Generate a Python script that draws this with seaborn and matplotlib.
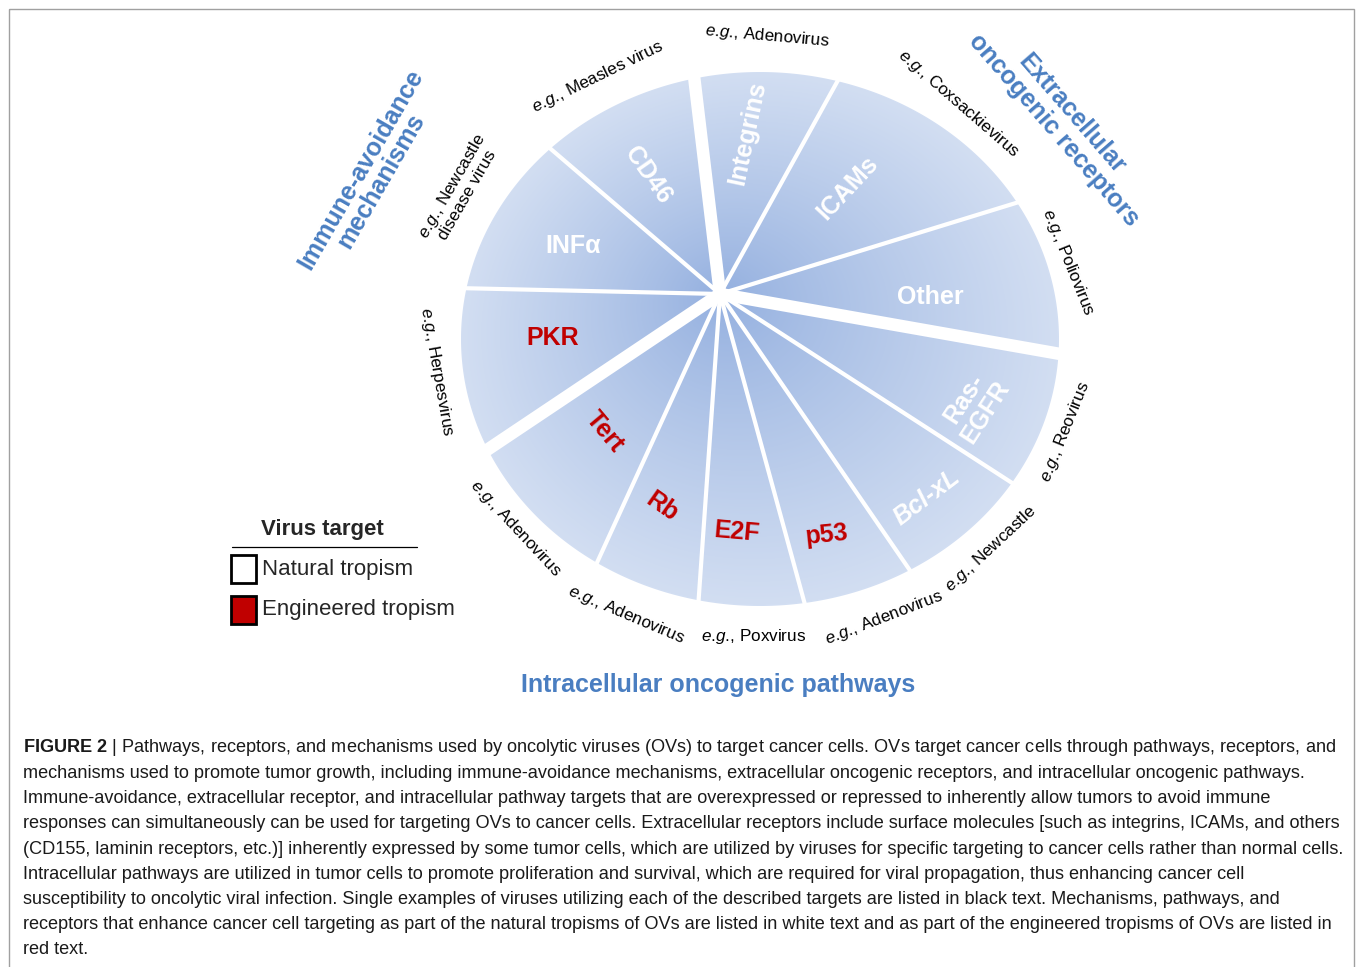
import numpy as np
import matplotlib
matplotlib.use("Agg")
import matplotlib.pyplot as plt
import seaborn as sns
from matplotlib.patches import Polygon, Rectangle

sns.set_theme(style="white")
plt.rcParams['font.family'] = ['Liberation Sans', 'DejaVu Sans']
plt.rcParams['mathtext.fontset'] = 'custom'
plt.rcParams['mathtext.rm'] = 'Liberation Sans'
plt.rcParams['mathtext.it'] = 'Liberation Sans:italic'
plt.rcParams['mathtext.bf'] = 'Liberation Sans:bold'

# ---------------- data ----------------
targets = ["Other", "ICAMs", "Integrins", "CD46", "INFα", "PKR",
           "Tert", "Rb", "E2F", "p53", "Bcl-xL", "Ras-\nEGFR"]
spans_deg = [27.1, 44.0, 35.7, 42.6, 39.3, 35.1, 31.6, 20.6, 19.3, 19.2, 22.6, 22.9]
groups = ["Extracellular", "Extracellular", "Extracellular",
          "Immune", "Immune", "Immune",
          "Intracellular", "Intracellular", "Intracellular",
          "Intracellular", "Intracellular", "Intracellular"]
tropism = ["Natural", "Natural", "Natural", "Natural", "Natural", "Engineered",
           "Engineered", "Engineered", "Engineered", "Engineered", "Natural", "Natural"]
examples = ["Poliovirus", "Coxsackievirus", "Adenovirus", "Measles virus",
            "Newcastle\ndisease virus", "Herpesvirus", "Adenovirus", "Adenovirus",
            "Poxvirus", "Adenovirus", "Newcastle", "Reovirus"]
group_titles = ["Extracellular\noncogenic receptors", "Immune-avoidance\nmechanisms",
                "Intracellular oncogenic pathways"]
legend_title = "Virus target"
legend_labels = ["Natural tropism", "Engineered tropism"]
caption_lines = [
    r"$\mathbf{FIGURE\ 2}$ | Pathways, receptors, and mechanisms used by oncolytic viruses (OVs) to target cancer cells. OVs target cancer cells through pathways, receptors, and",
    "mechanisms used to promote tumor growth, including immune-avoidance mechanisms, extracellular oncogenic receptors, and intracellular oncogenic pathways.",
    "Immune-avoidance, extracellular receptor, and intracellular pathway targets that are overexpressed or repressed to inherently allow tumors to avoid immune",
    "responses can simultaneously can be used for targeting OVs to cancer cells. Extracellular receptors include surface molecules [such as integrins, ICAMs, and others",
    "(CD155, laminin receptors, etc.)] inherently expressed by some tumor cells, which are utilized by viruses for specific targeting to cancer cells rather than normal cells.",
    "Intracellular pathways are utilized in tumor cells to promote proliferation and survival, which are required for viral propagation, thus enhancing cancer cell",
    "susceptibility to oncolytic viral infection. Single examples of viruses utilizing each of the described targets are listed in black text. Mechanisms, pathways, and",
    "receptors that enhance cancer cell targeting as part of the natural tropisms of OVs are listed in white text and as part of the engineered tropisms of OVs are listed in",
    "red text.",
]

# ---------------- layout / style ----------------
W, H = 1356, 967
start_deg = -10.0
cx, cy = 720.0, 294.0            # convergence point (pixels)
ex, ey, rx, ry = 760.0, 339.0, 299.0, 267.0   # outer outline ellipse
inner_col, outer_col = "#93afdf", "#d2def2"
red = "#c00000"
blue = "#4a7ec1"

label_pos = [(930, 297), (848, 188), (748, 133), (648, 175), (573, 246), (553, 338),
             (605, 432), (662, 507), (737, 532), (826, 535), (927, 497), (975, 405)]
label_rot = [0, 47, 78, -55, 0, 0, -50, -35, -5, 6, 37, 57]
ex_pos = [(1068, 262), (959, 104), (767, 36), (598, 77), (459, 190), (437, 372),
          (516, 528), (626, 615), (754, 637), (884, 618), (991, 549), (1065, 432)]
ex_rot = [-68, -41, -5, 26, 60, -80, -47, -23, 0, 21, 43, 68]
title_pos = [(1063, 122), (371, 175), (718, 685)]
title_rot = [-49, 60, 0]

fig = plt.figure(figsize=(W / 100, H / 100), dpi=100)
ax = fig.add_axes([0, 0, 1, 1])


def ray_len(dx, dy):
    a = (cx - ex) / rx
    b = (cy - ey) / ry
    u = dx / rx
    v = dy / ry
    A = u * u + v * v
    B = 2 * (a * u + b * v)
    C = a * a + b * b - 1
    return (-B + np.sqrt(B * B - 4 * A * C)) / (2 * A)


# gradient image
x0, x1, y0, y1 = 440, 1080, 50, 630
xs = np.arange(x0, x1) + 0.5
ys = np.arange(y0, y1) + 0.5
X, Y = np.meshgrid(xs, ys)
U, V = X - cx, Y - cy
D = np.hypot(U, V) + 1e-9
S = ray_len(U / D, V / D)
T = np.clip(D / S, 0, 1)
cmap = sns.blend_palette([inner_col, outer_col], as_cmap=True)
img = cmap(T ** 0.85)

edges = start_deg + np.concatenate([[0], np.cumsum(spans_deg)])
for i in range(len(targets)):
    th = np.radians(np.linspace(edges[i], edges[i + 1], 80))
    dx, dy = np.cos(th), -np.sin(th)
    r = ray_len(dx, dy)
    verts = np.vstack([[cx, cy], np.column_stack([cx + r * dx, cy + r * dy])])
    poly = Polygon(verts, closed=True, fc="none", ec="none")
    ax.add_patch(poly)
    im = ax.imshow(img, extent=(x0, x1, y1, y0), origin="upper",
                   aspect="auto", interpolation="bilinear", zorder=1)
    im.set_clip_path(poly)

# separators
n = len(targets)
for i in range(n):
    a = np.radians(edges[i])
    thick = groups[i - 1] != groups[i]
    dx, dy = np.cos(a), -np.sin(a)
    r = ray_len(dx, dy) + 6
    ax.plot([cx, cx + r * dx], [cy, cy + r * dy], color="white",
            lw=9.0 if thick else 3.0, solid_capstyle="butt", zorder=3)

ax.set_xlim(0, W)
ax.set_ylim(H, 0)
ax.set_axis_off()

# inner labels
for i, name in enumerate(targets):
    col = red if tropism[i] == "Engineered" else "white"
    style = "italic" if name == "Bcl-xL" else "normal"
    ax.text(*label_pos[i], name, color=col, fontsize=18, fontweight="bold",
            fontstyle=style, rotation=label_rot[i], ha="center", va="center",
            rotation_mode="anchor", linespacing=1.05, zorder=5)

# example labels
eg = r"$\mathit{e}$.$\mathit{g}$., "
for i, exm in enumerate(examples):
    lines = exm.split("\n")
    txt = eg + lines[0] + ("\n" + lines[1] if len(lines) > 1 else "")
    ax.text(*ex_pos[i], txt, color="black", fontsize=12.3, rotation=ex_rot[i],
            ha="center", va="center", rotation_mode="anchor",
            multialignment="center", linespacing=1.0, zorder=5)

# group titles
for i, t in enumerate(group_titles):
    ax.text(*title_pos[i], t, color=blue, fontsize=18, fontweight="bold",
            rotation=title_rot[i], ha="center", va="center",
            rotation_mode="anchor", multialignment="center", linespacing=1.0)

# legend
ax.text(322, 529, legend_title, fontsize=16, fontweight="bold", ha="center", va="center")
ax.plot([232, 417], [547, 547], color="black", lw=0.9)
for j, (lab, fc) in enumerate(zip(legend_labels, ["white", red])):
    yy = 555 + 41 * j
    ax.add_patch(Rectangle((231, yy), 25, 28, fc=fc, ec="black", lw=2, zorder=4))
    ax.text(262, yy + 14, lab, fontsize=16, ha="left", va="center")

# caption
for k, line in enumerate(caption_lines):
    ax.text(23, 748 + 25.25 * k, line, fontsize=13.05, ha="left", va="center",
            color="#1a1a1a")

# frame
ax.add_patch(Rectangle((8.5, 8.5), 1345.5, 1000, fc="none", ec="#a0a0a0",
                       lw=1.0, clip_on=False, zorder=0))

fig.savefig("out.png", dpi=100)
